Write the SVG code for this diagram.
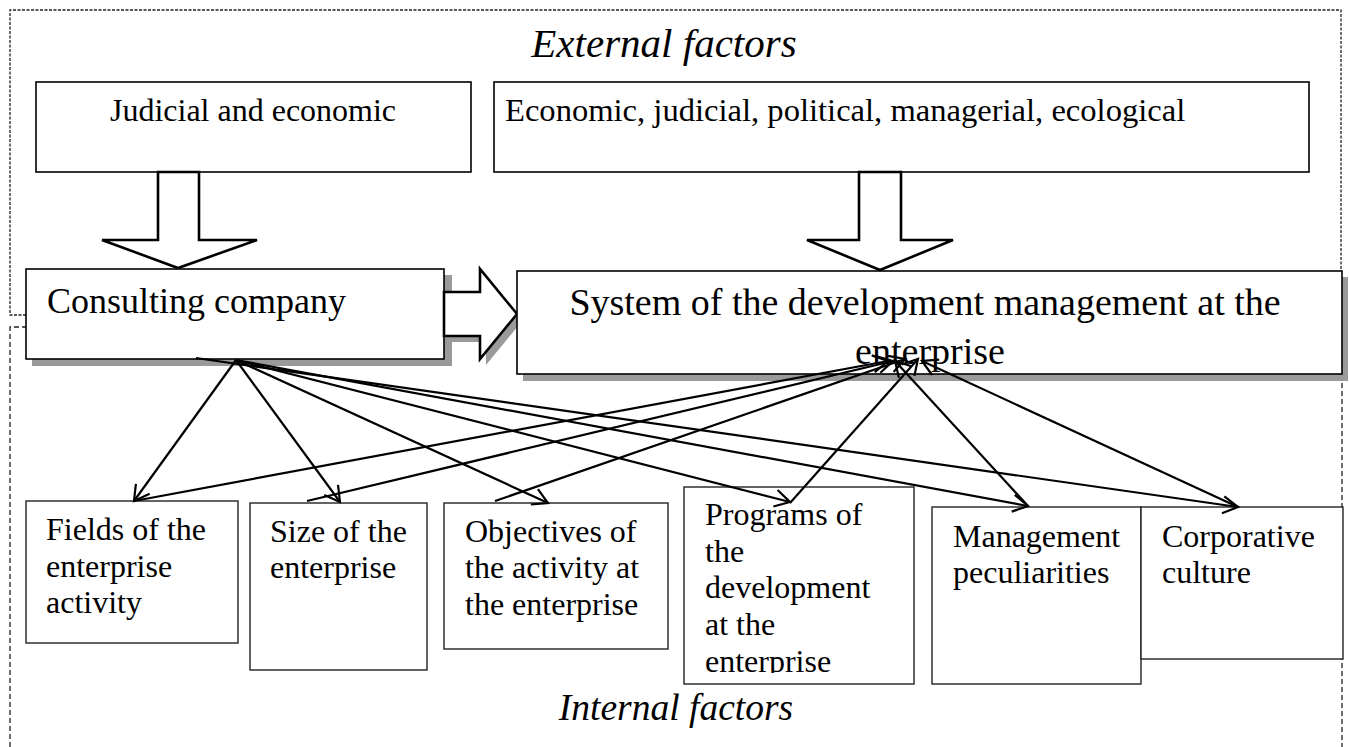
<svg xmlns="http://www.w3.org/2000/svg" width="1349" height="747" viewBox="0 0 1349 747">
<style>
.t{font-family:"Liberation Serif","Times New Roman",serif;fill:#000}
.s32{font-size:32px}
.it{font-style:italic}
.box{fill:#fff;stroke:#000;stroke-width:1.6}
.sbox{fill:#fff;stroke:#222;stroke-width:1.4}
.shadow{fill:#9a9a9a}
.barrow{fill:#fff;stroke:#000;stroke-width:2.6;stroke-linejoin:miter}
.ext{fill:none;stroke:#222;stroke-width:1.3;stroke-dasharray:3 1.5}
.int{fill:none;stroke:#222;stroke-width:1.3;stroke-dasharray:5 3}
.ln{fill:none;stroke:#000;stroke-width:2.2;marker-end:url(#ah)}
</style>
<defs>
<marker id="ah" markerUnits="userSpaceOnUse" markerWidth="20" markerHeight="20" refX="16" refY="9.5" orient="auto" overflow="visible">
<path d="M1,1 L16,9.5 L1,18" fill="none" stroke="#000" stroke-width="2.2"/>
</marker>
<clipPath id="clipProg"><rect x="684" y="487" width="230" height="186"/></clipPath>
</defs>
<rect width="1349" height="747" fill="#fff"/>

<g id="borders">
<path class="ext" d="M26,315 L10,315 L10,10 L1341,10 L1341,315"/>
<path class="int" d="M10,747 L10,327 L1342,327 L1342,747"/>
</g>

<text class="t it" font-size="41" x="664" y="57" text-anchor="middle">External factors</text>
<text class="t it" font-size="37.5" x="676" y="720" text-anchor="middle">Internal factors</text>

<g id="judicial">
<rect class="box" x="36" y="82" width="435" height="90"/>
<text class="t s32" x="253" y="121" text-anchor="middle">Judicial and economic</text>
</g>
<g id="economic">
<rect class="box" x="494" y="82" width="815" height="90"/>
<text class="t" font-size="32.6" x="505" y="121">Economic, judicial, political, managerial, ecological</text>
</g>

<g id="arrow-down-1">
<polygon class="barrow" points="158,172 199,172 199,240 257,240 178,268 102,240 158,240"/>
</g>
<g id="arrow-down-2">
<polygon class="barrow" points="859,172 901,172 901,240 953,240 880,270 807,240 859,240"/>
</g>

<g id="consulting">
<rect class="shadow" x="32" y="275" width="420" height="91"/>
<rect class="box" x="26" y="269" width="418" height="90"/>
<text class="t" font-size="36" x="47" y="313">Consulting company</text>
</g>

<g id="arrow-right">
<polygon class="shadow" points="450,298 486,298 486,275 523,320 486,365 486,342 450,342"/>
<polygon class="barrow" points="444,292 480,292 480,269 517,314 480,359 480,336 444,336"/>
</g>

<g id="system">
<rect class="shadow" x="523" y="277" width="825" height="104"/>
<rect class="box" x="517" y="271" width="825" height="103"/>
<text class="t" font-size="38" x="925" y="315" text-anchor="middle">System of the development management at the</text>
<text class="t" font-size="38" x="930" y="364" text-anchor="middle">enterprise</text>
</g>

<g id="fields">
<rect class="sbox" x="26" y="501" width="212" height="142"/>
<text class="t s32" x="46" y="540">Fields of the</text>
<text class="t s32" x="46" y="577">enterprise</text>
<text class="t s32" x="46" y="613">activity</text>
</g>
<g id="size">
<rect class="sbox" x="250" y="503" width="177" height="167"/>
<text class="t s32" x="270" y="542">Size of the</text>
<text class="t s32" x="270" y="578">enterprise</text>
</g>
<g id="objectives">
<rect class="sbox" x="444" y="503" width="224" height="146"/>
<text class="t s32" x="465" y="542">Objectives of</text>
<text class="t s32" x="465" y="578">the activity at</text>
<text class="t s32" x="465" y="615">the enterprise</text>
</g>
<g id="programs">
<rect class="sbox" x="684" y="487" width="230" height="197"/>
<g clip-path="url(#clipProg)">
<text class="t s32" x="705" y="525">Programs of</text>
<text class="t s32" x="705" y="562">the</text>
<text class="t s32" x="705" y="598">development</text>
<text class="t s32" x="705" y="635">at the</text>
<text class="t s32" x="705" y="672">enterprise</text>
</g>
</g>
<g id="management">
<rect class="sbox" x="932" y="507" width="209" height="177"/>
<text class="t s32" x="953" y="547">Management</text>
<text class="t s32" x="953" y="583">peculiarities</text>
</g>
<g id="corporative">
<rect class="sbox" x="1141" y="507" width="202" height="152"/>
<text class="t s32" x="1162" y="547">Corporative</text>
<text class="t s32" x="1162" y="583">culture</text>
</g>

<g id="connectors">
<line class="ln" x1="236" y1="360" x2="134" y2="501"/>
<line class="ln" x1="236" y1="360" x2="340" y2="502"/>
<line class="ln" x1="236" y1="360" x2="548" y2="503"/>
<line class="ln" x1="236" y1="360" x2="790" y2="502"/>
<line class="ln" x1="236" y1="360" x2="1028" y2="506"/>
<line class="ln" x1="196" y1="358" x2="1238" y2="507"/>
<line class="ln" x1="134" y1="501" x2="888" y2="361"/>
<line class="ln" x1="307" y1="501" x2="893" y2="361"/>
<line class="ln" x1="495" y1="501" x2="905" y2="359"/>
<line class="ln" x1="790" y1="503" x2="918" y2="359"/>
<line class="ln" x1="1028" y1="506" x2="895" y2="361"/>
<line class="ln" x1="1238" y1="507" x2="922" y2="361"/>
</g>
</svg>
